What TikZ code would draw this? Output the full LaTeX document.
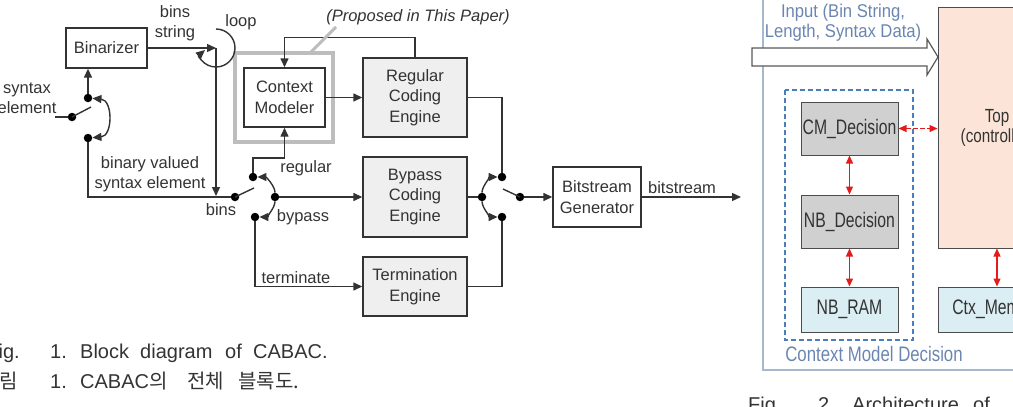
\documentclass[tikz,border=0pt]{standalone}
\usepackage{fontspec}
\setmainfont{Liberation Sans}
\newfontfamily\kr{Noto Sans CJK KR}
\usepackage{graphicx}
\usetikzlibrary{arrows.meta}
\definecolor{ink}{HTML}{333333}
\definecolor{lgray}{HTML}{EFEFEF}
\definecolor{hlgray}{HTML}{BDBDBD}
\definecolor{peach}{HTML}{FCE5D8}
\definecolor{lblue}{HTML}{DAEEF3}
\definecolor{mgray}{HTML}{D0D0D0}
\definecolor{bluegray}{HTML}{6A86B0}
\definecolor{dashblue}{HTML}{4A7EBB}
\definecolor{framec}{HTML}{A5B8CC}
\definecolor{arrred}{HTML}{E51B1B}
\newcommand\nar[2]{\scalebox{#1}[1]{#2}}
\begin{document}
\begin{tikzpicture}[x=1pt,y=-1pt,
  >={Triangle[length=9pt,width=8pt]},
  line/.style={draw=ink,line width=1.4pt},
  blk/.style={draw=ink,line width=1.4pt,align=center,inner sep=0pt,text=ink,font=\fontsize{16.5}{20.5}\selectfont},
  dot/.style={circle,fill=black,inner sep=0pt,minimum size=8.5pt},
  lbl/.style={text=ink,font=\fontsize{16.5}{20.5}\selectfont,inner sep=0pt,align=center},
  capt/.style={text=ink,font=\fontsize{20}{24}\selectfont,inner sep=0pt,anchor=base west},
  rbox/.style={draw=gray!60!black,line width=1pt,align=center,inner sep=0pt,text=ink,font=\fontsize{21}{24}\selectfont},
  rlbl/.style={text=bluegray,inner sep=0pt,align=center},
  redarr/.style={draw=arrred,line width=1.2pt,{Triangle[length=8pt,width=7pt]}-{Triangle[length=8pt,width=7pt]}}
]
\useasboundingbox (0,0) rectangle (1013,407);
\clip (0,0) rectangle (1013,407);

% ---------- left figure: boxes ----------
\node[blk,fill=white,minimum width=81pt,minimum height=40pt] (bin) at (106.5,48) {Binarizer};
\node[draw=hlgray,line width=4pt,minimum width=98pt,minimum height=89pt,inner sep=0pt] (hl) at (284,97.5) {};
\node[blk,fill=white,minimum width=81pt,minimum height=59pt] (cm) at (284.5,97.5) {Context\\Modeler};
\node[blk,fill=lgray,minimum width=104pt,minimum height=79pt] (reg) at (415,97.5) {Regular\\Coding\\Engine};
\node[blk,fill=lgray,minimum width=104pt,minimum height=80pt] (byp) at (415,197) {Bypass\\Coding\\Engine};
\node[blk,fill=lgray,minimum width=104pt,minimum height=59pt] (ter) at (415,286.5) {Termination\\Engine};
\node[blk,fill=white,minimum width=88pt,minimum height=60pt] (bsg) at (597,197) {Bitstream\\Generator};

% ---------- switch dots ----------
\node[dot] (s1i) at (72,117) {};
\node[dot] (s1t) at (88,98) {};
\node[dot] (s1b) at (88,138) {};
\node[dot] (bi) at (235,197) {};
\node[dot] (rt) at (253,177) {};
\node[dot] (bp) at (275,197) {};
\node[dot] (tb) at (255,217) {};
\node[dot] (lo) at (482,197) {};
\node[dot] (ot) at (502,177) {};
\node[dot] (ob) at (502,217) {};
\node[dot] (ro) at (520,197) {};
\coordinate (sein) at (55,117);
\coordinate (lp) at (216,48);
\coordinate (lpd) at (216,196);
\coordinate (out) at (741,197);

% ---------- connectors ----------
\draw[line] (sein) -- (s1i);
\draw[line] (s1i.center) -- (91,107);
\draw[line,->] (s1t) -- (s1t |- bin.south);
\draw[line,<->] (s1t) .. controls (113,100) and (113,136) .. (s1b);
\draw[line] (s1b) |- (bi);
\draw[line,->] (bin.east) -- (lp);
\draw[line,->] (lp) -- (lpd);
\draw[line,->] (216,29) arc[start angle=-90,end angle=140,radius=19] .. controls (198,56) .. (205,50);
\draw[line] (bi.center) -- (254,188);
\draw[line,->] (rt) -- ++(0,-19) -| (cm.south);
\draw[line,->] (bp) .. controls (275,186) and (266,177) .. (rt);
\draw[line,->] (bp) .. controls (275,208) and (266,217) .. (tb);
\draw[line,->] (bp) -- (byp.west);
\draw[line,->] (tb) |- (ter.west);
\draw[line] (byp.east) -- (lo);
\draw[line,->] (lo) .. controls (482,186) and (491,177) .. (ot);
\draw[line,->] (lo) .. controls (482,208) and (491,217) .. (ob);
\draw[line] (ot) |- (reg.east);
\draw[line] (ob) |- (ter.east);
\draw[line] (ro.center) -- (503,189);
\draw[line,->] (ro) -- (bsg.west);
\draw[line,->] (bsg.east) -- (out);
\draw[line,->] (reg.north) -- ++(0,-20) -| (cm.north);
\draw[line,->] (cm.east) -- (reg.west);
\draw[hlgray,line width=3pt] (310,53) -- (336,27);

% ---------- labels ----------
\node[lbl,font=\itshape\fontsize{16.5}{20}\selectfont] (prop) at (418,17) {(Proposed in This Paper)};
\node[lbl] (lbins) at (175,23) {bins\\string};
\node[lbl] (lloop) at (241,22) {loop};
\node[lbl] (lse) at (27,98) {syntax\\element};
\node[lbl] (lbv) at (150,174) {binary valued\\syntax element};
\node[lbl] (lreg) at (306,168) {regular};
\node[lbl] (lbins2) at (221,210) {bins};
\node[lbl] (lbyp) at (303,217) {bypass};
\node[lbl] (lter) at (296,278) {terminate};
\node[lbl] (lbs) at (682,188) {bitstream};

% ---------- left captions ----------
\node[capt,anchor=base east] at (20,358) {Fig.};
\node[capt] at (50,358) {1.};
\node[capt] at (80,358) {Block};
\node[capt] at (140,358) {diagram};
\node[capt] at (225,358) {of};
\node[capt] at (253,358) {CABAC.};
\node[capt,anchor=base east] at (18,388) {\kr 그림};
\node[capt] at (50,388) {1.};
\node[capt] at (80,388) {CABAC{\kr 의}};
\node[capt] at (187,388) {\kr 전체};
\node[capt] at (238,388) {\kr 블록도.};

% ---------- right figure ----------
\draw[framec,line width=1.2pt] (763,-5) -- (763,370) -- (1020,370);
\node[rlbl,font=\fontsize{18.5}{20}\selectfont] (inp) at (843,23) {\nar{.9}{Input (Bin String,}\\\nar{.9}{Length, Syntax Data)}};
\draw[draw=gray!70!black,fill=white,line width=1.2pt] (752,48) -- (927,48) -- (927,39) -- (938,57) -- (927,75) -- (927,66) -- (752,66) -- cycle;
\node[rbox,fill=peach,minimum width=118pt,minimum height=241pt,font=\fontsize{19}{20}\selectfont] (top) at (997,127.5) {\nar{.8}{Top}\\\nar{.8}{(controller)}};
\draw[dashblue,line width=1.3pt,dash pattern=on 5pt off 3pt] (785,90) rectangle (913,340);
\node[rbox,fill=mgray,minimum width=97pt,minimum height=53pt] (cmd) at (849.5,128.5) {\nar{.75}{CM\_Decision}};
\node[rbox,fill=mgray,minimum width=97pt,minimum height=53pt] (nbd) at (849.5,221.5) {\nar{.75}{NB\_Decision}};
\node[rbox,fill=lblue,minimum width=97pt,minimum height=45pt] (nbr) at (849.5,309.5) {\nar{.75}{NB\_RAM}};
\node[rbox,fill=lblue,minimum width=118pt,minimum height=45pt] (ctx) at (997,309.5) {\nar{.75}{Ctx\_Memory}};
\draw[redarr,dash pattern=on 5pt off 2pt] (cmd.east) -- (cmd.east -| top.west);
\draw[redarr] (cmd.south) -- (nbd.north);
\draw[redarr] (nbd.south) -- (nbr.north);
\draw[redarr] (top.south) -- (ctx.north);
\node[rlbl,font=\fontsize{21}{24}\selectfont] (cmdl) at (874,354) {\nar{.8}{Context Model Decision}};
\node[capt] at (748,411) {Fig.};
\node[capt] at (818,411) {2.};
\node[capt] at (852,411) {Architecture};
\node[capt] at (973,411) {of};
\end{tikzpicture}
\end{document}
